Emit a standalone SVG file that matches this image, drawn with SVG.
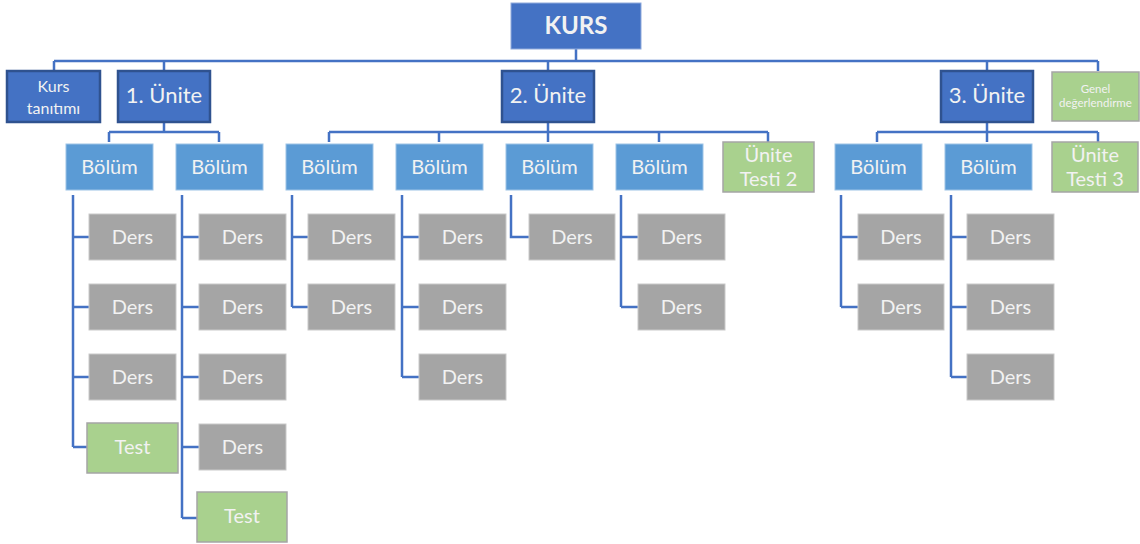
<svg xmlns="http://www.w3.org/2000/svg" width="1140" height="544" viewBox="0 0 1140 544">
<style>
text{font-family:Lato,"Open Sans","Liberation Sans",sans-serif;fill:#F2F2F2;text-anchor:middle;dominant-baseline:central;transform:translateY(-1.5px)}
.kurs{fill:#4472C4;stroke:#8FAADC;stroke-width:1}
.unite{fill:#4472C4;stroke:#2F528F;stroke-width:2.5}
.bolum{fill:#5B9BD5;stroke:#9DC3E6;stroke-width:1}
.ders{fill:#A5A5A5;stroke:#C9C9C9;stroke-width:1}
.test{fill:#A9D18E;stroke:#A5A5A5;stroke-width:1.5}
.t20{font-size:20px}
.t22{font-size:22px}
.conn path{fill:none;stroke:#4472C4;stroke-width:2.5}
</style>
<g class="conn" id="connectors">
<path d="M576 49V61M54 61H1098M54 61V71M164 61V71M548 61V71M987 61V71M1098 61V71"/>
<path d="M164 122V132M109 132H219M109 132V142M219 132V142"/>
<path d="M548 122V132M329 132H768M329 132V142M439 132V142M548 132V142M659 132V142M768 132V142"/>
<path d="M987 122V132M877 132H1098M877 132V142M987 132V142M1098 132V142"/>
<path d="M73 195V447M73 237H89M73 307H89M73 377H89M73 447H87"/>
<path d="M182 195V518M182 237H199M182 307H199M182 377H199M182 447H199M182 518H197"/>
<path d="M292 195V307M292 237H308M292 307H308"/>
<path d="M402 195V377M402 237H419M402 307H419M402 377H419"/>
<path d="M511 195V237H529"/>
<path d="M621 195V307M621 237H638M621 307H638"/>
<path d="M841 195V307M841 237H858M841 307H858"/>
<path d="M951 195V377M951 237H967M951 307H967M951 377H967"/>
</g>
<g id="kurs"><rect class="kurs" x="511" y="3" width="130" height="46"/><text x="576" y="26" font-size="24" font-weight="bold">KURS</text></g>
<g id="kurs-tanitimi"><rect class="unite" x="7" y="71" width="93" height="51"/><text x="53.5" y="87" font-size="16">Kurs</text><text x="53.5" y="109" font-size="16">tanıtımı</text></g>
<g id="unite1"><rect class="unite" x="118" y="71" width="92" height="51"/><text class="t22" x="164" y="96">1. Ünite</text></g>
<g id="unite2"><rect class="unite" x="502" y="71" width="92" height="51"/><text class="t22" x="548" y="96">2. Ünite</text></g>
<g id="unite3"><rect class="unite" x="941" y="71" width="92" height="51"/><text class="t22" x="987" y="96">3. Ünite</text></g>
<g id="genel"><rect class="test" x="1052" y="72" width="87" height="49"/><text x="1095.5" y="90" font-size="11.5">Genel</text><text x="1095.5" y="104" font-size="11.5">değerlendirme</text></g>
<g id="bolum1"><rect class="bolum" x="66" y="144" width="87" height="46"/><text class="t20" x="109.5" y="167">Bölüm</text></g>
<g id="bolum2"><rect class="bolum" x="176" y="144" width="87" height="46"/><text class="t20" x="219.5" y="167">Bölüm</text></g>
<g id="bolum3"><rect class="bolum" x="286" y="144" width="87" height="46"/><text class="t20" x="329.5" y="167">Bölüm</text></g>
<g id="bolum4"><rect class="bolum" x="396" y="144" width="87" height="46"/><text class="t20" x="439.5" y="167">Bölüm</text></g>
<g id="bolum5"><rect class="bolum" x="506" y="144" width="87" height="46"/><text class="t20" x="549.5" y="167">Bölüm</text></g>
<g id="bolum6"><rect class="bolum" x="616" y="144" width="87" height="46"/><text class="t20" x="659.5" y="167">Bölüm</text></g>
<g id="unite-testi-2"><rect class="test" x="723" y="142" width="91" height="50"/><text class="t20" x="768.5" y="155">Ünite</text><text class="t20" x="768.5" y="179">Testi 2</text></g>
<g id="bolum7"><rect class="bolum" x="835" y="144" width="87" height="46"/><text class="t20" x="878.5" y="167">Bölüm</text></g>
<g id="bolum8"><rect class="bolum" x="945" y="144" width="87" height="46"/><text class="t20" x="988.5" y="167">Bölüm</text></g>
<g id="unite-testi-3"><rect class="test" x="1052" y="142" width="86" height="50"/><text class="t20" x="1095" y="155">Ünite</text><text class="t20" x="1095" y="179">Testi 3</text></g>
<g id="d1-1"><rect class="ders" x="89" y="214" width="87" height="46"/><text class="t20" x="132.5" y="237">Ders</text></g>
<g id="d1-2"><rect class="ders" x="89" y="284" width="87" height="46"/><text class="t20" x="132.5" y="307">Ders</text></g>
<g id="d1-3"><rect class="ders" x="89" y="354" width="87" height="46"/><text class="t20" x="132.5" y="377">Ders</text></g>
<g id="test1"><rect class="test" x="87" y="423" width="91" height="50"/><text class="t20" x="132.5" y="447">Test</text></g>
<g id="d2-1"><rect class="ders" x="199" y="214" width="87" height="46"/><text class="t20" x="242.5" y="237">Ders</text></g>
<g id="d2-2"><rect class="ders" x="199" y="284" width="87" height="46"/><text class="t20" x="242.5" y="307">Ders</text></g>
<g id="d2-3"><rect class="ders" x="199" y="354" width="87" height="46"/><text class="t20" x="242.5" y="377">Ders</text></g>
<g id="d2-4"><rect class="ders" x="199" y="424" width="87" height="46"/><text class="t20" x="242.5" y="447">Ders</text></g>
<g id="test2"><rect class="test" x="197" y="492" width="90" height="50"/><text class="t20" x="242" y="516">Test</text></g>
<g id="d3-1"><rect class="ders" x="308" y="214" width="87" height="46"/><text class="t20" x="351.5" y="237">Ders</text></g>
<g id="d3-2"><rect class="ders" x="308" y="284" width="87" height="46"/><text class="t20" x="351.5" y="307">Ders</text></g>
<g id="d4-1"><rect class="ders" x="419" y="214" width="87" height="46"/><text class="t20" x="462.5" y="237">Ders</text></g>
<g id="d4-2"><rect class="ders" x="419" y="284" width="87" height="46"/><text class="t20" x="462.5" y="307">Ders</text></g>
<g id="d4-3"><rect class="ders" x="419" y="354" width="87" height="46"/><text class="t20" x="462.5" y="377">Ders</text></g>
<g id="d5-1"><rect class="ders" x="529" y="214" width="86" height="46"/><text class="t20" x="572" y="237">Ders</text></g>
<g id="d6-1"><rect class="ders" x="638" y="214" width="87" height="46"/><text class="t20" x="681.5" y="237">Ders</text></g>
<g id="d6-2"><rect class="ders" x="638" y="284" width="87" height="46"/><text class="t20" x="681.5" y="307">Ders</text></g>
<g id="d7-1"><rect class="ders" x="858" y="214" width="86" height="46"/><text class="t20" x="901" y="237">Ders</text></g>
<g id="d7-2"><rect class="ders" x="858" y="284" width="86" height="46"/><text class="t20" x="901" y="307">Ders</text></g>
<g id="d8-1"><rect class="ders" x="967" y="214" width="87" height="46"/><text class="t20" x="1010.5" y="237">Ders</text></g>
<g id="d8-2"><rect class="ders" x="967" y="284" width="87" height="46"/><text class="t20" x="1010.5" y="307">Ders</text></g>
<g id="d8-3"><rect class="ders" x="967" y="354" width="87" height="46"/><text class="t20" x="1010.5" y="377">Ders</text></g>
</svg>
